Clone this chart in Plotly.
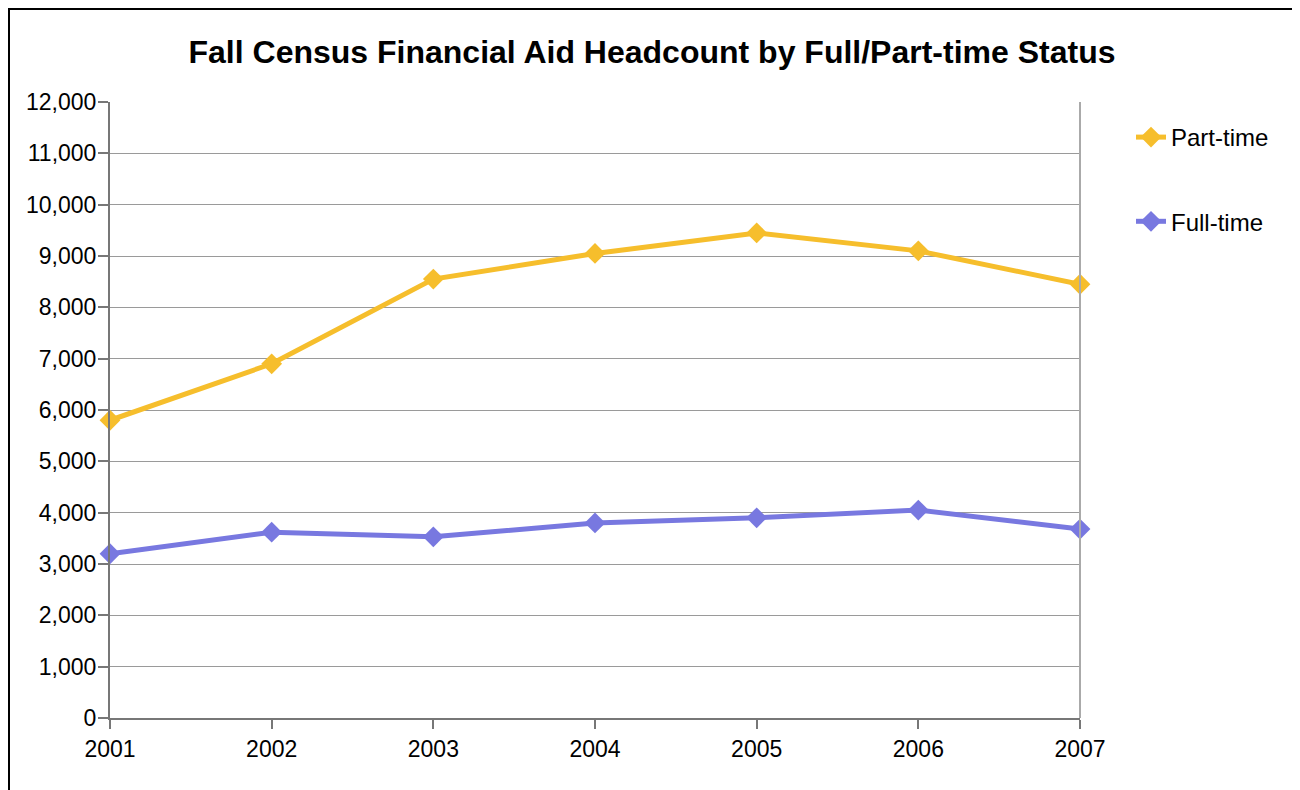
import plotly.graph_objects as go

years = ["2001", "2002", "2003", "2004", "2005", "2006", "2007"]
part_time = [5800, 6900, 8550, 9050, 9450, 9100, 8450]
full_time = [3200, 3620, 3530, 3800, 3900, 4050, 3680]
y_ticks = list(range(0, 12001, 1000))
title_text = "Fall Census Financial Aid Headcount by Full/Part-time Status"

FONT = "Liberation Sans, Arial, sans-serif"

W, H = 1292, 782
L, R, T, B = 102, 220, 94, 72
PW, PH = W - L - R, H - T - B

fig = go.Figure()
fig.add_trace(go.Scatter(
    x=years, y=part_time, name="Part-time", mode="lines+markers",
    line=dict(color="#F6BE2C", width=5),
    marker=dict(symbol="diamond", size=16, color="#F6BE2C"),
    cliponaxis=False, legendgroup="a",
))
fig.add_trace(go.Scatter(
    x=years, y=full_time, name="Full-time", mode="lines+markers",
    line=dict(color="#7878E0", width=5),
    marker=dict(symbol="diamond", size=16, color="#7878E0"),
    cliponaxis=False, legendgroup="b",
))

fig.update_layout(
    width=W, height=H,
    margin=dict(l=L, r=R, t=T, b=B),
    paper_bgcolor="white", plot_bgcolor="white",
    font=dict(family=FONT, color="black", size=23),
    title=dict(text="<b>" + title_text + "</b>", x=(652 - 8) / W, xanchor="center",
               y=1 - 44 / H, yanchor="middle",
               font=dict(size=32, family=FONT, color="black")),
    showlegend=True,
    legend=dict(x=(1123 - L) / PW, y=1 - 13 / PH, xanchor="left", yanchor="top",
                font=dict(size=24, family=FONT, color="black"),
                tracegroupgap=50, traceorder="grouped",
                bgcolor="rgba(0,0,0,0)"),
    xaxis=dict(
        type="category", range=[0, len(years) - 1],
        showgrid=False, showline=True, linecolor="#777777", linewidth=2,
        ticks="outside", ticklen=9, tickwidth=2, tickcolor="#777777",
        tickfont=dict(size=23, family=FONT, color="black"),
        zeroline=False,
    ),
    yaxis=dict(
        range=[0, 12000], tickvals=y_ticks, tickformat=",d",
        showgrid=True, gridcolor="#9a9a9a", gridwidth=1,
        showline=True, linecolor="#777777", linewidth=2,
        ticks="outside", ticklen=10, tickwidth=1.5, tickcolor="#777777",
        tickfont=dict(size=23, family=FONT, color="black"),
        ticklabelstandoff=-3,
        zeroline=False,
    ),
    shapes=[
        dict(type="line", xref="paper", yref="paper", x0=1, x1=1, y0=0, y1=1,
             line=dict(color="#aaaaaa", width=2)),
        dict(type="rect", xref="paper", yref="paper",
             x0=(1 - L) / PW, x1=(W + 20 - L) / PW,
             y0=-(B + 20) / PH, y1=1 + (T - 1) / PH,
             line=dict(color="black", width=2), fillcolor="rgba(0,0,0,0)",
             layer="below"),
    ],
)

fig.write_html("out.html")
